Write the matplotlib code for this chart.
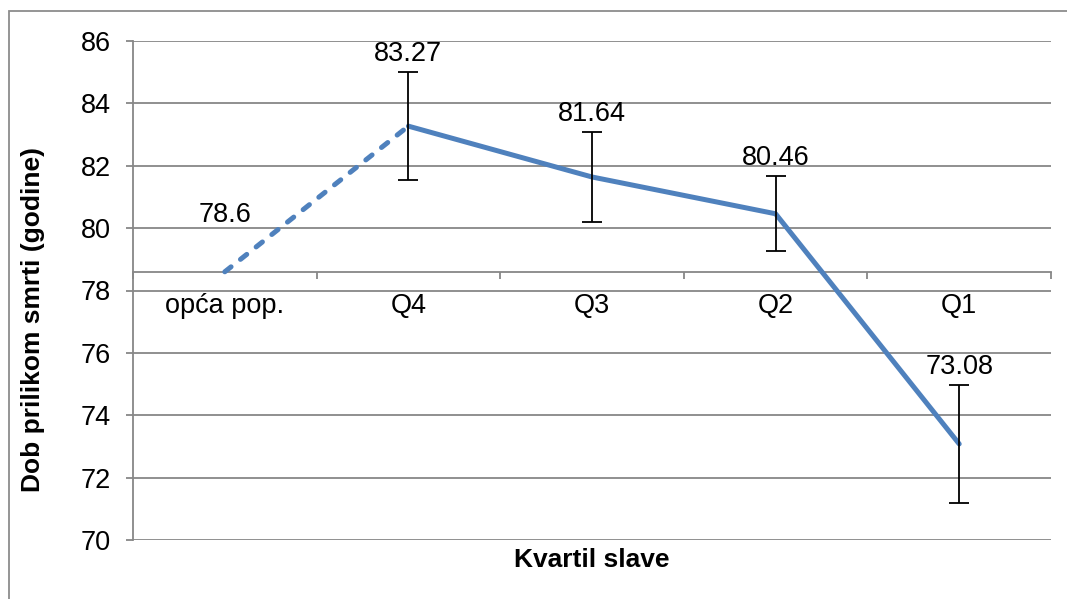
import numpy as np
import matplotlib.pyplot as plt
from matplotlib.patches import Rectangle
from matplotlib.ticker import FixedLocator, NullFormatter

plt.rcParams['font.family'] = ['Liberation Sans', 'DejaVu Sans']

# mean age at death per fame quartile, with error bar half-widths
categories = ['opća pop.', 'Q4', 'Q3', 'Q2', 'Q1']
age = [78.6, 83.27, 81.64, 80.46, 73.08]
err = [0.0, 1.73, 1.45, 1.2, 1.9]
baseline = 78.6

line_color = '#4F81BD'
grid_color = '#878787'
fs = 19.5
x = np.arange(len(categories))

fig = plt.figure(figsize=(10.67, 5.99), dpi=100)
ax = fig.add_axes([133 / 1067, 1 - 540 / 599, 918 / 1067, 499 / 599])

# outer chart frame (right and bottom edges fall outside the image)
fig.patches.append(Rectangle((8.5 / 1067, -0.1), 1.2, 1.1 - 11.5 / 599,
                             transform=fig.transFigure, fill=False,
                             edgecolor='#8c8c8c', linewidth=1.3))

# dashed link from the population value to Q4, solid for the quartiles
ax.plot(x[:2], age[:2], color=line_color, lw=3.6, ls=(0, (1.6, 2.4)),
        dash_capstyle='round', zorder=3)
ax.plot(x[1:], age[1:], color=line_color, lw=3.6, solid_capstyle='round',
        solid_joinstyle='round', zorder=3)
ax.errorbar(x[1:], age[1:], yerr=err[1:], fmt='none', ecolor='black',
            elinewidth=1.3, capsize=7, capthick=1.3, zorder=4)

# value labels
for i, (v, e) in enumerate(zip(age, err)):
    off = 41 if e == 0 else 13
    ax.annotate(f'{v:g}', (x[i], v + e), xytext=(0, off),
                textcoords='offset points', ha='center', va='center',
                fontsize=fs)

ax.set_xlim(-0.5, len(categories) - 0.5)
ax.set_ylim(70, 86)
ax.set_yticks(np.arange(70, 87, 2))
ax.yaxis.grid(True, color=grid_color, lw=1.3)
ax.set_axisbelow(True)

# category axis crosses at the population value
ax.spines['bottom'].set_position(('data', baseline))
for s in ['top', 'right']:
    ax.spines[s].set_visible(False)
for s in ['left', 'bottom']:
    ax.spines[s].set_color(grid_color)
    ax.spines[s].set_linewidth(1.3)

ax.xaxis.set_major_locator(FixedLocator(np.arange(-0.5, len(categories), 1.0)))
ax.xaxis.set_major_formatter(NullFormatter())
ax.xaxis.set_minor_locator(FixedLocator(x))
ax.set_xticklabels(categories, minor=True)
ax.tick_params(axis='x', which='major', length=5, width=1.3, color=grid_color,
               direction='out')
ax.tick_params(axis='x', which='minor', length=0, pad=15, labelsize=fs)
ax.tick_params(axis='y', length=5, width=1.3, color=grid_color, pad=11,
               labelsize=fs)

fig.text(592 / 1067, 1 - 560 / 599, 'Kvartil slave', ha='center', va='center',
         fontsize=19, fontweight='bold')
fig.text(33 / 1067, 1 - 320 / 599, 'Dob prilikom smrti (godine)', ha='center',
         va='center', rotation=90, fontsize=19, fontweight='bold')

fig.savefig('out.png', dpi=100)
